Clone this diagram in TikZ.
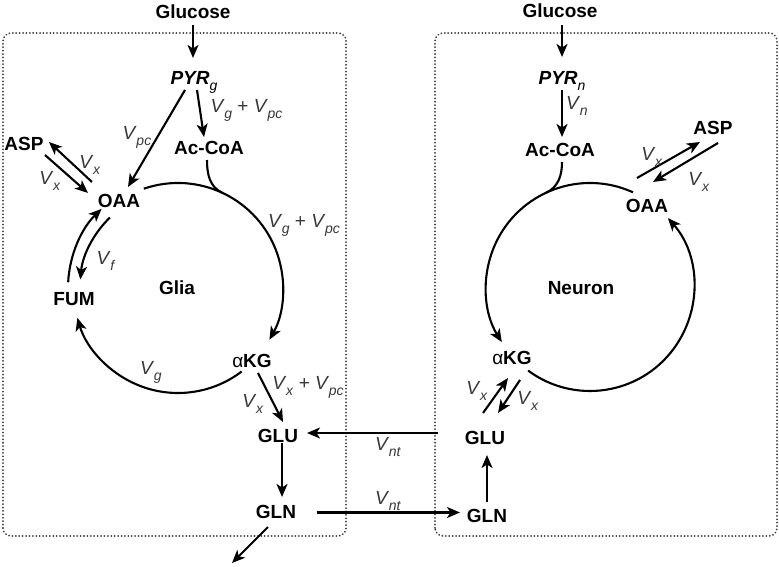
\documentclass[tikz,border=0pt]{standalone}
\usepackage{fontspec}
\setmainfont{Liberation Sans}
\usetikzlibrary{arrows.meta,calc}
\definecolor{vlab}{RGB}{55,55,55}
\definecolor{boxgray}{RGB}{60,60,60}
\newcommand\Vs[1]{\textit{V}\kern-0.02em\raisebox{-0.3em}{\fontsize{14}{14}\selectfont\textit{#1}}}
\newcommand\Ps[1]{\raisebox{-0.32em}{\fontsize{14}{14}\selectfont\mdseries\textit{#1}}}
\begin{document}
\begin{tikzpicture}[x=1pt,y=1pt,
  nd/.style={font=\fontsize{19}{22}\selectfont\bfseries, inner sep=0pt, anchor=base},
  lab/.style={font=\fontsize{19}{22}\selectfont, text=vlab, inner sep=0pt, anchor=base},
  arr/.style={line width=2.1pt, -{Stealth[length=13pt,width=11pt,inset=3.5pt]}},
  ln/.style={line width=2.1pt},
  cellbox/.style={draw=boxgray, line width=2pt, line cap=round, dash pattern=on 0.01pt off 3.4pt, rounded corners=8pt}]
\useasboundingbox (0,0) rectangle (779,566);
% cell boxes
\draw[cellbox] (3,30) rectangle (346,533);
\draw[cellbox] (435,30) rectangle (777,533);
% circle centres
\coordinate (gC) at (178,278);
\coordinate (nC) at (590,279);
% ---------- glia nodes
\node[nd] (gGlc) at (193,547) {Glucose};
\node[nd] (gPyr) at (194,481.5) {\textit{PYR}\Ps{g}};
\node[nd] (gAcoa) at (209,411) {Ac-CoA};
\node[nd] (gAsp) at (24,415) {ASP};
\node[nd] (gOaa) at (119,359) {OAA};
\node[nd] (gFum) at (74,261) {FUM};
\node[nd] (gGlia) at (177,272) {Glia};
\node[nd] (gAkg) at (252,199) {{\mdseries α}KG};
\node[nd] (gGlu) at (278,124) {GLU};
\node[nd] (gGln) at (276,48) {GLN};
\coordinate (gOut) at (232,3);
% ---------- neuron nodes
\node[nd] (nGlc) at (560,548) {Glucose};
\node[nd] (nPyr) at (562,481.5) {\textit{PYR}\Ps{n}};
\node[nd] (nAcoa) at (560,409) {Ac-CoA};
\node[nd] (nAsp) at (713,431) {ASP};
\node[nd] (nOaa) at (647,353) {OAA};
\node[nd] (nNeuron) at (581,272) {Neuron};
\node[nd] (nAkg) at (512,202) {{\mdseries α}KG};
\node[nd] (nGlu) at (485,122) {GLU};
\node[nd] (nGln) at (487,44) {GLN};
\coordinate (ntTail) at (438,133);
% ---------- glia connectors
\draw[arr] ($(gGlc.base)+(0,-6)$) -- ($(gPyr.base)+(-1,26.5)$);
\draw[arr] ($(gPyr.base)+(3,-5.5)$) -- ($(gAcoa.base)+(-5,18)$);
\draw[arr] ($(gPyr.base)+(-9,-5.5)$) -- ($(gOaa.base)+(9,20)$);
\draw[arr] ($(gOaa.base)+(-27,25)$) -- ($(gAsp.base)+(25,9)$);
\draw[arr] ($(gAsp.base)+(21,-4)$) -- ($(gOaa.base)+(-31,14)$);
\draw[arr] ($(gC)+(109:105)$) arc[start angle=109,end angle=-29.5,radius=105];
\draw[arr] ($(gC)+(-52.7:105)$) arc[start angle=-52.7,end angle=-163.5,radius=105];
\draw[arr] ($(gC)+(177:110)$) arc[start angle=177,end angle=134,radius=110];
\draw[arr] ($(gC)+(134:98)$) arc[start angle=134,end angle=175,radius=98];
\draw[ln] ($(gAcoa.base)+(-2,-5)$) to[out=-90,in=155] ($(gC)+(65:105)$);
\draw[arr] ($(gAkg.base)+(6,-6)$) -- ($(gGlu.base)+(5,20)$);
\draw[arr] ($(gGlu.base)+(4,-1)$) -- ($(gGln.base)+(6,21)$);
\draw[arr] ($(gGln.base)+(-8,-9)$) -- (gOut);
% ---------- exchange
\draw[arr] (ntTail) -- ($(gGlu.base)+(29,9)$);
\draw[arr] ($(gGln.base)+(41,5.5)$) -- ($(nGln.base)+(-27,9.5)$);
% ---------- neuron connectors
\draw[arr] ($(nGlc.base)+(2,-7)$) -- ($(nPyr.base)+(0,27.5)$);
\draw[arr] ($(nPyr.base)+(0,-5.5)$) -- ($(nAcoa.base)+(2,20)$);
\draw[ln] ($(nAcoa.base)+(2,-5)$) to[out=-90,in=25] ($(nC)+(115:104)$);
\draw[arr] ($(nC)+(65.6:104)$) arc[start angle=65.6,end angle=212,radius=104];
\draw[arr] ($(nC)+(233.5:104)$) arc[start angle=233.5,end angle=401.5,radius=104];
\draw[arr] ($(nOaa.base)+(-10,35)$) -- ($(nAsp.base)+(-13,-7)$);
\draw[arr] ($(nAsp.base)+(5,-8)$) -- ($(nOaa.base)+(6,31)$);
\draw[arr] ($(nGlu.base)+(-2,31)$) -- ($(nAkg.base)+(-4,-14)$);
\draw[arr] ($(nAkg.base)+(8,-16)$) -- ($(nGlu.base)+(13,31)$);
\draw[arr] ($(nGln.base)+(0,20)$) -- ($(nGlu.base)+(2,-11)$);
% ---------- labels
\node[lab] (lGpc1) at (246.5,453.5) {\Vs{g} + \Vs{pc}};
\node[lab] (lPc) at (137,426.5) {\Vs{pc}};
\node[lab] (lX1) at (90,397) {\Vs{x}};
\node[lab] (lX2) at (50,381.5) {\Vs{x}};
\node[lab] (lF) at (106,301.5) {\Vs{f}};
\node[lab] (lGpc2) at (304,338.5) {\Vs{g} + \Vs{pc}};
\node[lab] (lG) at (151,191.5) {\Vs{g}};
\node[lab] (lXpc) at (308,176.5) {\Vs{x} + \Vs{pc}};
\node[lab] (lX3) at (253,158.5) {\Vs{x}};
\node[lab] (lNt1) at (388,115.5) {\Vs{nt}};
\node[lab] (lNt2) at (388,61.5) {\Vs{nt}};
\node[lab] (lN) at (577,456.5) {\Vs{n}};
\node[lab] (lX4) at (652,405) {\Vs{x}};
\node[lab] (lX5) at (699,380.5) {\Vs{x}};
\node[lab] (lX6) at (477,171.5) {\Vs{x}};
\node[lab] (lX7) at (528,161.5) {\Vs{x}};
\end{tikzpicture}
\end{document}
